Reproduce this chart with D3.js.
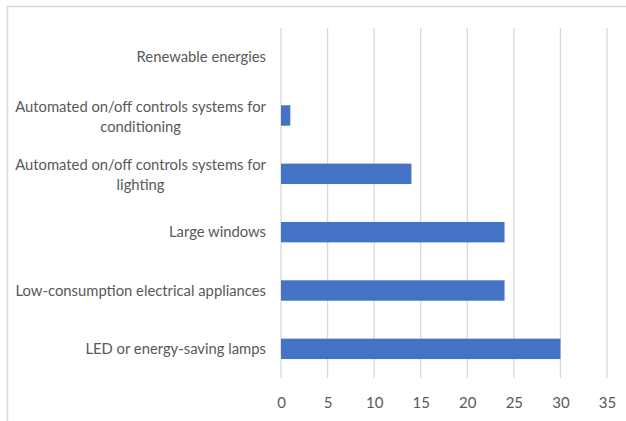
<!DOCTYPE html>
<html>
<head>
<meta charset="utf-8">
<script src="https://cdn.jsdelivr.net/npm/d3@7"></script>
<style>
  body { margin: 0; background: #fff; }
  text { font-family: Lato, "Liberation Sans", sans-serif; fill: #595959; }
</style>
</head>
<body>
<div id="chart"></div>
<script>
var width = 626;
var height = 421;

// data, top to bottom as in the picture
var categories = [
	"Renewable energies",
	"Automated on/off controls systems for conditioning",
	"Automated on/off controls systems for lighting",
	"Large windows",
	"Low-consumption electrical appliances",
	"LED or energy-saving lamps"
];
var values = [0, 1, 14, 24, 24, 30];
var xTicks = [0, 5, 10, 15, 20, 25, 30, 35];

//colors
var barColor = '#4472c4';
var gridColor = '#d9d9d9';
var frameColor = '#d9d9d9';

var plotLeft = 281, plotRight = 607, plotTop = 28, plotBottom = 378;

var svg = d3.select("#chart")
	.append("svg")
	.attr("width", width)
	.attr("height", height);

// chart frame (only top and left edges show)
svg.append("rect")
	.attr("x", 7.5)
	.attr("y", 6.5)
	.attr("width", 700)
	.attr("height", 500)
	.style("fill", "none")
	.style("stroke", frameColor)
	.style("stroke-width", 1.5);

var x = d3.scaleLinear()
	.domain([0, 35])
	.range([plotLeft, plotRight]);

var y = d3.scaleBand()
	.domain(categories)
	.range([plotTop, plotBottom])
	.paddingInner(0.65)
	.paddingOuter(0.325);

// vertical grid lines
svg.append("g").selectAll("line")
	.data(xTicks)
	.enter().append("line")
	.attr("x1", function(d) { return x(d); })
	.attr("x2", function(d) { return x(d); })
	.attr("y1", plotTop)
	.attr("y2", plotBottom)
	.style("stroke", gridColor)
	.style("stroke-width", 1.3);

// bars
svg.append("g").selectAll("rect")
	.data(values)
	.enter().append("rect")
	.attr("x", x(0))
	.attr("y", function(d, i) { return y(categories[i]); })
	.attr("width", function(d) { return x(d) - x(0); })
	.attr("height", y.bandwidth())
	.style("fill", barColor);

// x axis labels
var xAxis = svg.append("g")
	.attr("transform", "translate(0," + (plotBottom + 19) + ")")
	.call(d3.axisBottom(x).tickValues(xTicks).tickSize(0).tickPadding(0));
xAxis.select(".domain").remove();
xAxis.selectAll("text")
	.style("font-size", "15px")
	.style("fill", "#595959")
	.style("font-family", "Lato");

// category labels, wrapped
var yAxis = svg.append("g")
	.attr("transform", "translate(" + (plotLeft - 15) + ",0)")
	.call(d3.axisLeft(y).tickSize(0).tickPadding(0));
yAxis.select(".domain").remove();
yAxis.selectAll("text")
	.style("font-size", "14.8px")
	.style("fill", "#595959")
	.style("font-family", "Lato")
	.call(wrap, 262);

function wrap(texts, maxWidth) {
	texts.each(function() {
		var text = d3.select(this);
		var words = text.text().split(" ");
		var lines = [];
		var line = [];
		text.text(null);
		var probe = text.append("tspan");
		words.forEach(function(w) {
			line.push(w);
			probe.text(line.join(" "));
			if (probe.node().getComputedTextLength() > maxWidth && line.length > 1) {
				line.pop();
				lines.push(line.join(" "));
				line = [w];
			}
		});
		lines.push(line.join(" "));
		probe.remove();

		if (lines.length == 1) {
			text.attr("dy", null);
			text.append("tspan").attr("x", 0).attr("y", 5).text(lines[0]);
			return;
		}
		// widest line sets the block, other lines centred under it
		var widths = lines.map(function(l) {
			var t = text.append("tspan").text(l);
			var w = t.node().getComputedTextLength();
			t.remove();
			return w;
		});
		var blockW = d3.max(widths);
		var lh = 20;
		text.attr("text-anchor", "middle").attr("dy", null);
		lines.forEach(function(l, i) {
			text.append("tspan")
				.attr("x", -blockW / 2)
				.attr("y", (i - (lines.length - 1) / 2) * lh + 6)
				.text(l);
		});
	});
}
</script>
</body>
</html>
